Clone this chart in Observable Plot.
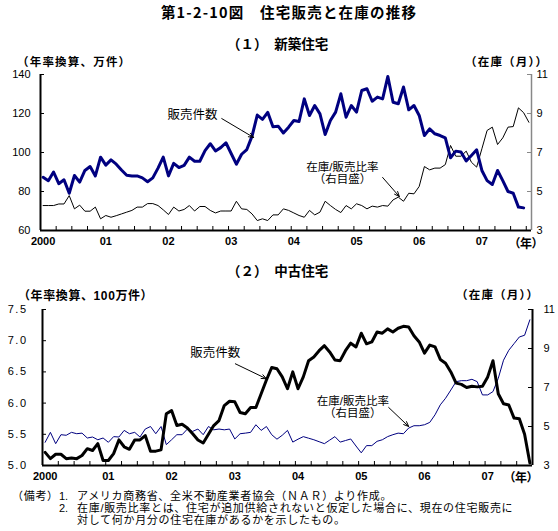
<!DOCTYPE html>
<html lang="ja">
<head>
<meta charset="utf-8">
<script src="https://cdn.jsdelivr.net/npm/d3@7"></script>
<script src="https://cdn.jsdelivr.net/npm/@observablehq/plot@0.6"></script>
<style>
html,body{margin:0;padding:0;background:#fff;}
#chart{position:relative;width:558px;height:531px;overflow:hidden;font-family:"Noto Sans CJK JP","Noto Sans",sans-serif;color:#000;}
#chart .t{position:absolute;white-space:nowrap;line-height:1;}
#chart .note{font-family:"Liberation Sans","Noto Sans CJK JP",sans-serif;}
#chart svg{position:absolute;left:0;}
</style>
</head>
<body>
<div id="chart"></div>
<script>
// ---------- data (monthly, index 0 = Jan 2000) ----------
const years = ["2000","01","02","03","04","05","06","07"];
const yearIdx = years.map((_, i) => i * 12);

// (1) new homes: sales (10k units, SAAR) and inventory/sales ratio (months)
const newSales = [87.3,85.5,90,84,86,79.1,88.2,84.8,90.8,92.8,88,97.6,
  93.5,96.2,94,91,88.3,88,88,87,85,87,92,97.6,
  88,94.4,92.3,93.4,97.6,95.5,95.5,101,104.5,100.8,102.5,105,
  99.5,94,99.1,101.5,108.4,119.2,117,120.6,113.2,113.5,110,113,
  116.4,115.9,127.5,119,124.1,119.8,109.2,116.4,120.7,130.1,118.1,124.1,
  120.7,131.8,132.7,126.3,128.4,127.5,139,125.8,125,133.6,121.9,124.1,
  119,108.7,112.1,109.6,108.7,107.5,97.3,100.7,100.3,95.7,98.5,101.4,
  90.8,85.6,83.6,90.8,85.6,80,79.1,72,71.6];
const newRatio = [4.28,4.28,4.28,4.36,4.36,4.79,4.11,4.3,3.99,3.99,4.2,3.6,
  3.77,3.68,3.76,3.85,3.94,4.03,4.2,4.2,4.38,4.38,4.28,4.06,
  3.82,4.2,4.0,4.08,4.28,4.0,4.23,4.23,4.03,3.9,4.0,4.0,
  4.0,4.5,4.11,4.08,3.85,3.51,3.6,3.51,3.8,3.8,4.11,4.03,
  3.9,3.77,3.68,4.03,3.8,3.94,4.5,4.28,4.08,3.92,4.28,4.11,
  4.37,4.28,4.11,4.25,4.2,4.28,4.25,4.57,4.71,4.5,4.91,4.88,
  5.26,6.28,6.11,6.2,6.2,6.38,7.36,6.81,6.81,7.07,6.5,6.25,
  7.19,8.13,8.3,7.41,7.75,8.3,8.33,9.29,9.04,8.55];

// (2) existing homes: sales (million units, SAAR) and inventory/sales ratio (months)
const usedSales = [5.21,5.11,5.18,5.18,5.11,5.12,5.11,5.16,5.27,5.24,5.35,5.08,
  5.08,5.19,5.41,5.30,5.26,5.41,5.41,5.48,5.23,5.23,5.25,5.83,
  5.88,5.64,5.66,5.60,5.51,5.41,5.36,5.5,5.64,5.72,5.96,6.03,
  6.02,5.85,5.83,5.93,5.93,6.15,6.37,6.57,6.55,6.42,6.23,6.5,
  6.23,6.42,6.68,6.74,6.84,6.92,6.82,6.69,6.68,6.84,6.96,6.9,
  7.12,6.95,6.98,7.14,7.12,7.19,7.14,7.2,7.23,7.22,7.08,6.98,
  6.8,6.93,6.9,6.7,6.64,6.5,6.32,6.3,6.25,6.27,6.26,6.27,
  6.42,6.68,6.15,5.99,5.97,5.76,5.75,5.5,5.04];
const usedRatio = [4.19,4.7,4.12,4.58,4.55,4.7,4.63,4.66,4.41,4.46,4.32,4.41,
  4.19,4.48,4.46,4.8,4.63,4.7,4.46,4.87,5.0,4.63,5.0,4.07,
  4.32,4.58,4.58,4.87,4.75,4.87,4.58,5.0,4.83,4.87,4.83,4.87,
  4.36,4.63,4.66,4.7,5.09,4.8,5.0,4.58,4.35,4.55,4.8,4.2,
  4.35,4.48,4.4,4.32,4.22,4.12,4.3,4.48,4.2,4.28,4.36,4.0,
  3.65,4.02,4.02,4.24,4.32,4.48,4.58,4.66,4.63,4.92,5.04,5.04,
  5.09,5.21,5.6,6.11,6.45,6.87,7.3,7.35,7.35,7.42,7.3,6.62,
  6.62,6.79,7.47,8.4,8.91,9.25,9.59,9.68,10.47];

const leftTicks1 = [60,80,100,120,140];
const leftTicks2 = [5.0,5.5,6.0,6.5,7.0,7.5];
const rightTicks = [3,5,7,9,11];
const annLabels = ["販売件数", "在庫/販売比率", "（右目盛）"];

// ---------- page text ----------
const chart = document.getElementById("chart");
function label(text, o) {
  const el = document.createElement("div");
  el.className = "t" + (o.note ? " note" : "");
  el.textContent = text;
  el.style.left = o.left + "px";
  el.style.top = (o.cy - o.size / 2) + "px";
  el.style.fontSize = o.size + "px";
  if (o.bold) el.style.fontWeight = "bold";
  if (o.ls) el.style.letterSpacing = o.ls + "px";
  if (o.center) el.style.transform = "translateX(-50%)";
  if (o.palt) el.style.fontFeatureSettings = '"palt"';
  chart.appendChild(el);
}

// ---------- panels ----------
function panel(o) {
  const W = 558;
  const plotW = W - o.ml - o.mr;
  const plotH = o.h - o.mt - o.mb;
  const sales = o.sales.map((v, i) => ({m: i, v}));
  const ratio = o.ratio.map((r, i) => ({m: i, v: o.toL(r)}));
  const lo = o.yDomain[0];
  const rightL = o.rightTicks.map(o.toL);
  const marks = [
    Plot.line(ratio, {x: "m", y: "v", stroke: o.ratioColor, strokeWidth: 1}),
    Plot.line(sales, {x: "m", y: "v", stroke: o.salesColor, strokeWidth: 3}),
    Plot.ruleX(o.qTicks, {x: d => d, insetTop: plotH - 4, stroke: "#000", strokeWidth: 1}),
    Plot.ruleY(o.leftTicks, {y: d => d, insetRight: plotW - 4, stroke: "#000", strokeWidth: 1}),
    Plot.ruleY(rightL, {y: d => d, insetLeft: plotW - 4, stroke: o.rightColor, strokeWidth: 1}),
    Plot.ruleX([o.xDomain[0]], {x: d => d, stroke: "#000", strokeWidth: 2}),
    Plot.ruleX([o.xDomain[1]], {x: d => d, stroke: o.rightColor, strokeWidth: o.rightWidth}),
    Plot.ruleY([lo], {y: d => d, stroke: "#000", strokeWidth: 2}),
    Plot.axisX(yearIdx, {anchor: "bottom", tickSize: 0, tickPadding: 7, label: null,
      tickFormat: d => years[yearIdx.indexOf(d)], fontWeight: "bold", fontSize: 11}),
    Plot.axisY(o.leftTicks, {anchor: "left", tickSize: 0, tickPadding: o.leftPad, label: null,
      tickFormat: o.leftFmt, fontSize: 11}),
    Plot.axisY(rightL, {anchor: "right", tickSize: 0, tickPadding: o.rightPad, label: null,
      tickFormat: d => String(Math.round(o.toR(d))), fontSize: 11}),
  ];
  for (const a of o.ann) {
    marks.push(Plot.text([a.text], {x: () => a.x, y: () => a.y, text: d => d,
      fontFamily: "'Liberation Sans', 'Noto Sans CJK JP', sans-serif", fontSize: a.size,
      lineHeight: a.lh || 1, fill: "#000"}));
  }
  for (const a of o.arrows) {
    marks.push(Plot.arrow([a], {x1: d => d.x1, y1: d => d.y1, x2: d => d.x2, y2: d => d.y2,
      stroke: "#000", strokeWidth: 1, headLength: 8, headAngle: 45}));
  }
  const svg = Plot.plot({
    width: W, height: o.h,
    marginLeft: o.ml, marginRight: o.mr, marginTop: o.mt, marginBottom: o.mb,
    x: {domain: o.xDomain, label: null},
    y: {domain: o.yDomain, label: null},
    style: {fontFamily: "'Liberation Sans', Arial, sans-serif", fontSize: "11px",
      background: "transparent", overflow: "visible", color: "#000"},
    marks
  });
  svg.style.top = o.top + "px";
  if (o.leftLS) {
    const g = svg.querySelectorAll('g[aria-label="y-axis tick label"]')[0];
    if (g) g.style.letterSpacing = o.leftLS + "px";
  }
  chart.appendChild(svg);
}

const to1 = r => 60 + (r - 3) * 10;
const from1 = v => (v - 60) / 10 + 3;
const to2 = r => 5 + (r - 3) * 2.5 / 8;
const from2 = v => (v - 5) * 8 / 2.5 + 3;

panel({
  top: 0, h: 252, ml: 40, mr: 27, mt: 74, mb: 22,
  xDomain: [-0.5, newRatio.length - 0.5], yDomain: [60, 140],
  qTicks: d3.range(2.5, newRatio.length - 1, 3),
  sales: newSales, ratio: newRatio, toL: to1, toR: from1,
  leftTicks: leftTicks1, rightTicks, leftFmt: d => String(d), leftPad: 10, rightPad: 5,
  salesColor: "#000080", ratioColor: "#000", rightColor: "#888", rightWidth: 1.5,
  ann: [
    {text: annLabels[0], x: 28.6, y: 119.0, size: 12.5},
    {text: annLabels[1] + "\n" + annLabels[2], x: 57.3, y: 89.5, size: 11.5, lh: 1.05}
  ],
  arrows: [
    {x1: 34.2, y1: 117.4, x2: 40.3, y2: 107.7},
    {x1: 65.0, y1: 87.2, x2: 68.2, y2: 77.4}
  ]
});

panel({
  top: 252, h: 238, ml: 42, mr: 26, mt: 57, mb: 25,
  xDomain: [-0.5, usedRatio.length - 0.5], yDomain: [5, 7.5],
  qTicks: d3.range(2.5, usedRatio.length - 1, 3),
  sales: usedSales, ratio: usedRatio, toL: to2, toR: from2,
  leftTicks: leftTicks2, rightTicks, leftFmt: d3.format(".1f"), leftPad: 15, rightPad: 11, leftLS: 1.5,
  salesColor: "#000", ratioColor: "#000080", rightColor: "#000", rightWidth: 2,
  ann: [
    {text: annLabels[0], x: 32.3, y: 6.81, size: 12.5},
    {text: annLabels[1] + "\n" + annLabels[2], x: 58.4, y: 5.934, size: 11.5, lh: 1.05}
  ],
  arrows: [
    {x1: 36.1, y1: 6.63, x2: 42.0, y2: 6.39},
    {x1: 65.2, y1: 5.93, x2: 69.0, y2: 5.625}
  ]
});

// titles, units, notes
label("第1-2-10図　住宅販売と在庫の推移", {left: 289, cy: 12, size: 14.5, bold: true, ls: 1.2, center: true});
label("（１）　新築住宅", {left: 227, cy: 44, size: 13.5, bold: true});
label("（年率換算、万件）", {left: 17, cy: 62.5, size: 11.5, bold: true, ls: 1.2, note: true});
label("（在庫（月））", {left: 465, cy: 62.5, size: 11.5, bold: true, ls: 1.2, note: true});
label("（年）", {left: 526, cy: 243, size: 12, bold: true, center: true, palt: true});
label("（２）　中古住宅", {left: 227, cy: 271, size: 13.5, bold: true});
label("（年率換算、100万件）", {left: 18, cy: 295.5, size: 12, bold: true, ls: 0.6, note: true});
label("（在庫（月））", {left: 456, cy: 295.5, size: 11.5, bold: true, ls: 1.2, note: true});
label("（年）", {left: 521, cy: 476.5, size: 12, bold: true, center: true, palt: true});
label("（備考）", {left: 12, cy: 496, size: 11, ls: 0.7, note: true});
label("1.", {left: 59, cy: 496, size: 11, note: true});
label("アメリカ商務省、全米不動産業者協会（ＮＡＲ）より作成。", {left: 77, cy: 496, size: 11, ls: 0.7, note: true});
label("2.", {left: 59, cy: 508.5, size: 11, note: true});
label("在庫/販売比率とは、住宅が追加供給されないと仮定した場合に、現在の住宅販売に", {left: 77, cy: 508.5, size: 11, ls: 0.7, note: true});
label("対して何か月分の住宅在庫があるかを示したもの。", {left: 77, cy: 520.5, size: 11, ls: 0.7, note: true});
</script>
</body>
</html>
